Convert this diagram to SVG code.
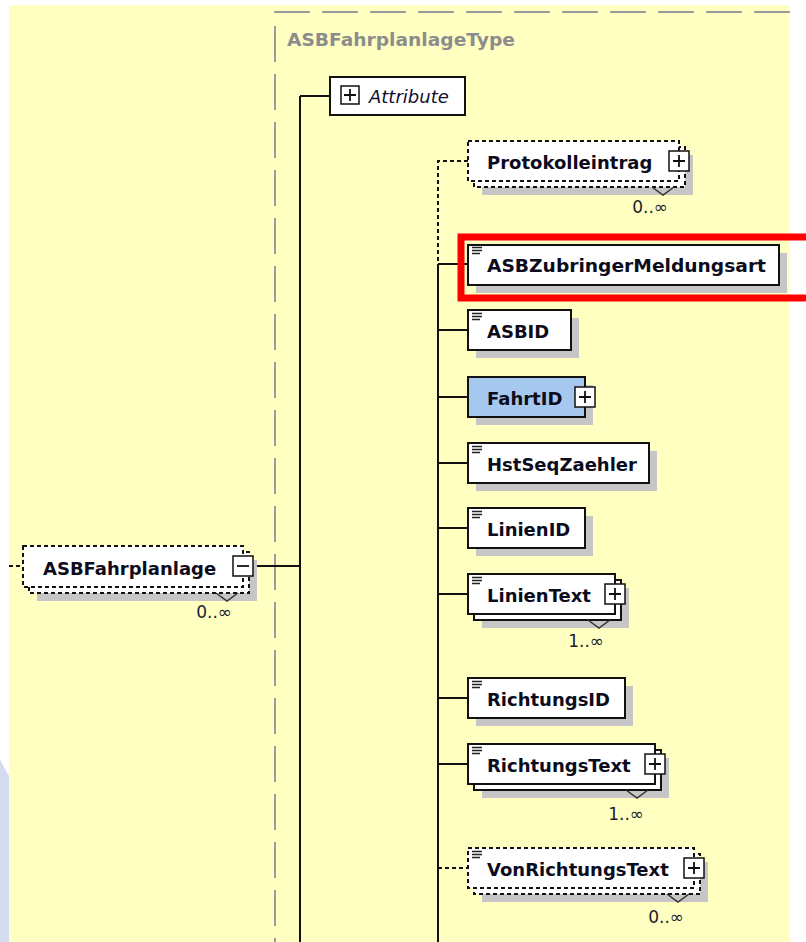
<svg xmlns="http://www.w3.org/2000/svg" width="806" height="942" viewBox="0 0 806 942">
  <style>
    .bg { fill: #ffffc2; }
    .typeframe { stroke: #9a9a9a; stroke-width: 2; fill: none; stroke-dasharray: 36 12; }
    .typename { font-family: "DejaVu Sans", sans-serif; font-weight: bold; font-size: 18px; fill: #8c8c8c; }
    .conn { stroke: #111; stroke-width: 2; fill: none; }
    .conn-opt { stroke: #111; stroke-width: 2; fill: none; stroke-dasharray: 4 3; }
    .shadow { fill: #c6c6c6; }
    .box { fill: #fff; stroke: #111; stroke-width: 2; }
    .box-opt { fill: #fff; stroke: #111; stroke-width: 2; stroke-dasharray: 4 3; }
    .box-complex { fill: #a6c8ee; stroke: #111; stroke-width: 2; }
    .label { font-family: "DejaVu Sans", sans-serif; font-weight: bold; font-size: 18px; fill: #0c0c1c; }
    .attr { font-family: "DejaVu Sans", sans-serif; font-style: italic; font-size: 18px; fill: #101030; }
    .mult { font-family: "DejaVu Sans", sans-serif; font-size: 17px; fill: #1c1c30; text-anchor: end; }
    .toggle { fill: #fff; stroke: #111; stroke-width: 1.5; }
    .sign { stroke: #111; stroke-width: 1.8; fill: none; }
    .icon { stroke: #222; stroke-width: 1.5; fill: none; }
    .chev { stroke: #333; stroke-width: 1.5; fill: none; }
    .mark { fill: none; stroke: #ff0000; stroke-width: 7; }
  </style>

  <!-- page / canvas -->
  <rect x="0" y="0" width="806" height="942" fill="#ffffff"/>
  <rect class="bg" x="9" y="5" width="781" height="937"/>
  <polygon points="0,760 9,776 9,942 0,942" fill="#d5dbf1"/>

  <!-- complex type frame -->
  <g id="type-frame">
    <line class="typeframe" x1="274" y1="12" x2="790" y2="12"/>
    <line class="typeframe" x1="275" y1="26" x2="275" y2="942"/>
    <text class="typename" x="287" y="46" textLength="228" lengthAdjust="spacingAndGlyphs">ASBFahrplanlageType</text>
  </g>

  <!-- connectors -->
  <g id="connectors">
    <path class="conn-opt" d="M9,566 H23"/>
    <path class="conn" d="M253,566 H300"/>
    <path class="conn" d="M300,96 H330 M300,96 V942"/>
    <path class="conn-opt" d="M468,161 H438 V264"/>
    <path class="conn" d="M438,264 V942"/>
    <path class="conn" d="M438,264 H468 M438,330 H468 M438,397 H468 M438,463 H468 M438,528 H468 M438,594 H468 M438,698 H468 M438,764 H468"/>
    <path class="conn-opt" d="M438,868 H468"/>
  </g>

  <!-- root element -->
  <g id="node-ASBFahrplanlage">
    <rect class="shadow" x="37" y="560" width="220" height="41"/>
    <rect class="box-opt" x="29" y="552" width="220" height="41"/>
    <rect class="box-opt" x="23" y="546" width="220" height="41"/>
    <polyline class="chev" points="216,593 227,601 238,593"/>
    <text class="label" x="43" y="575">ASBFahrplanlage</text>
    <rect class="toggle" x="233" y="556" width="20" height="20"/>
    <path class="sign" d="M237,566 H249"/>
    <text class="mult" x="232" y="618">0..∞</text>
  </g>

  <g id="node-Attribute">
    <rect class="box" x="330" y="77" width="135" height="38"/>
    <rect class="toggle" x="341" y="86" width="18" height="18"/>
    <path class="sign" d="M344,95 H356 M350,89 V101"/>
    <text class="attr" x="369" y="103">Attribute</text>
  </g>

  <g id="node-Protokolleintrag">
    <rect class="shadow" x="482" y="155" width="211" height="40"/>
    <rect class="box-opt" x="474" y="147" width="211" height="40"/>
    <rect class="box-opt" x="468" y="141" width="211" height="40"/>
    <polyline class="chev" points="652,187 663,195 674,187"/>
    <text class="label" x="487" y="169">Protokolleintrag</text>
    <rect class="toggle" x="669" y="151" width="20" height="20"/>
    <path class="sign" d="M673,161 H685 M679,155 V167"/>
    <text class="mult" x="668" y="213">0..∞</text>
  </g>

  <g id="node-ASBZubringerMeldungsart">
    <rect class="shadow" x="476" y="253" width="311" height="40"/>
    <rect class="box" x="468" y="245" width="311" height="40"/>
    <path class="icon" d="M472,247.5 H482 M472,250.5 H482 M472,253.5 H480"/>
    <text class="label" x="487" y="272" textLength="279" lengthAdjust="spacingAndGlyphs">ASBZubringerMeldungsart</text>
  </g>

  <g id="node-ASBID">
    <rect class="shadow" x="476" y="318" width="103" height="40"/>
    <rect class="box" x="468" y="310" width="103" height="40"/>
    <path class="icon" d="M472,313.5 H482 M472,316.5 H482 M472,319.5 H480"/>
    <text class="label" x="487" y="338">ASBID</text>
  </g>

  <g id="node-FahrtID">
    <rect class="shadow" x="476" y="385" width="117" height="40"/>
    <rect class="box-complex" x="468" y="377" width="117" height="40"/>
    <text class="label" x="487" y="405">FahrtID</text>
    <rect class="toggle" x="575" y="387" width="20" height="20"/>
    <path class="sign" d="M579,397 H591 M585,391 V403"/>
  </g>

  <g id="node-HstSeqZaehler">
    <rect class="shadow" x="476" y="451" width="181" height="40"/>
    <rect class="box" x="468" y="443" width="181" height="40"/>
    <path class="icon" d="M472,446.5 H482 M472,449.5 H482 M472,452.5 H480"/>
    <text class="label" x="487" y="471">HstSeqZaehler</text>
  </g>

  <g id="node-LinienID">
    <rect class="shadow" x="476" y="516" width="117" height="40"/>
    <rect class="box" x="468" y="508" width="117" height="40"/>
    <path class="icon" d="M472,511.5 H482 M472,514.5 H482 M472,517.5 H480"/>
    <text class="label" x="487" y="536">LinienID</text>
  </g>

  <g id="node-LinienText">
    <rect class="shadow" x="482" y="588" width="147" height="40"/>
    <rect class="box" x="474" y="580" width="147" height="40"/>
    <rect class="box" x="468" y="574" width="147" height="40"/>
    <polyline class="chev" points="588,620 599,628 610,620"/>
    <path class="icon" d="M472,577.5 H482 M472,580.5 H482 M472,583.5 H480"/>
    <text class="label" x="487" y="602">LinienText</text>
    <rect class="toggle" x="605" y="584" width="20" height="20"/>
    <path class="sign" d="M609,594 H621 M615,588 V600"/>
    <text class="mult" x="604" y="647">1..∞</text>
  </g>

  <g id="node-RichtungsID">
    <rect class="shadow" x="476" y="686" width="157" height="40"/>
    <rect class="box" x="468" y="678" width="157" height="40"/>
    <path class="icon" d="M472,681.5 H482 M472,684.5 H482 M472,687.5 H480"/>
    <text class="label" x="487" y="706">RichtungsID</text>
  </g>

  <g id="node-RichtungsText">
    <rect class="shadow" x="482" y="758" width="187" height="40"/>
    <rect class="box" x="474" y="750" width="187" height="40"/>
    <rect class="box" x="468" y="744" width="187" height="40"/>
    <polyline class="chev" points="626,790 637,798 648,790"/>
    <path class="icon" d="M472,747.5 H482 M472,750.5 H482 M472,753.5 H480"/>
    <text class="label" x="487" y="772">RichtungsText</text>
    <rect class="toggle" x="645" y="754" width="20" height="20"/>
    <path class="sign" d="M649,764 H661 M655,758 V770"/>
    <text class="mult" x="644" y="820">1..∞</text>
  </g>

  <g id="node-VonRichtungsText">
    <rect class="shadow" x="482" y="862" width="226" height="40"/>
    <rect class="box-opt" x="474" y="854" width="226" height="40"/>
    <rect class="box-opt" x="468" y="848" width="226" height="40"/>
    <polyline class="chev" points="667,894 678,902 689,894"/>
    <path class="icon" d="M472,851.5 H482 M472,854.5 H482 M472,857.5 H480"/>
    <text class="label" x="487" y="876">VonRichtungsText</text>
    <rect class="toggle" x="684" y="858" width="20" height="20"/>
    <path class="sign" d="M688,868 H700 M694,862 V874"/>
    <text class="mult" x="684" y="923">0..∞</text>
  </g>

  <!-- highlight frame -->
  <rect class="mark" x="461" y="237" width="400" height="61"/>
</svg>
